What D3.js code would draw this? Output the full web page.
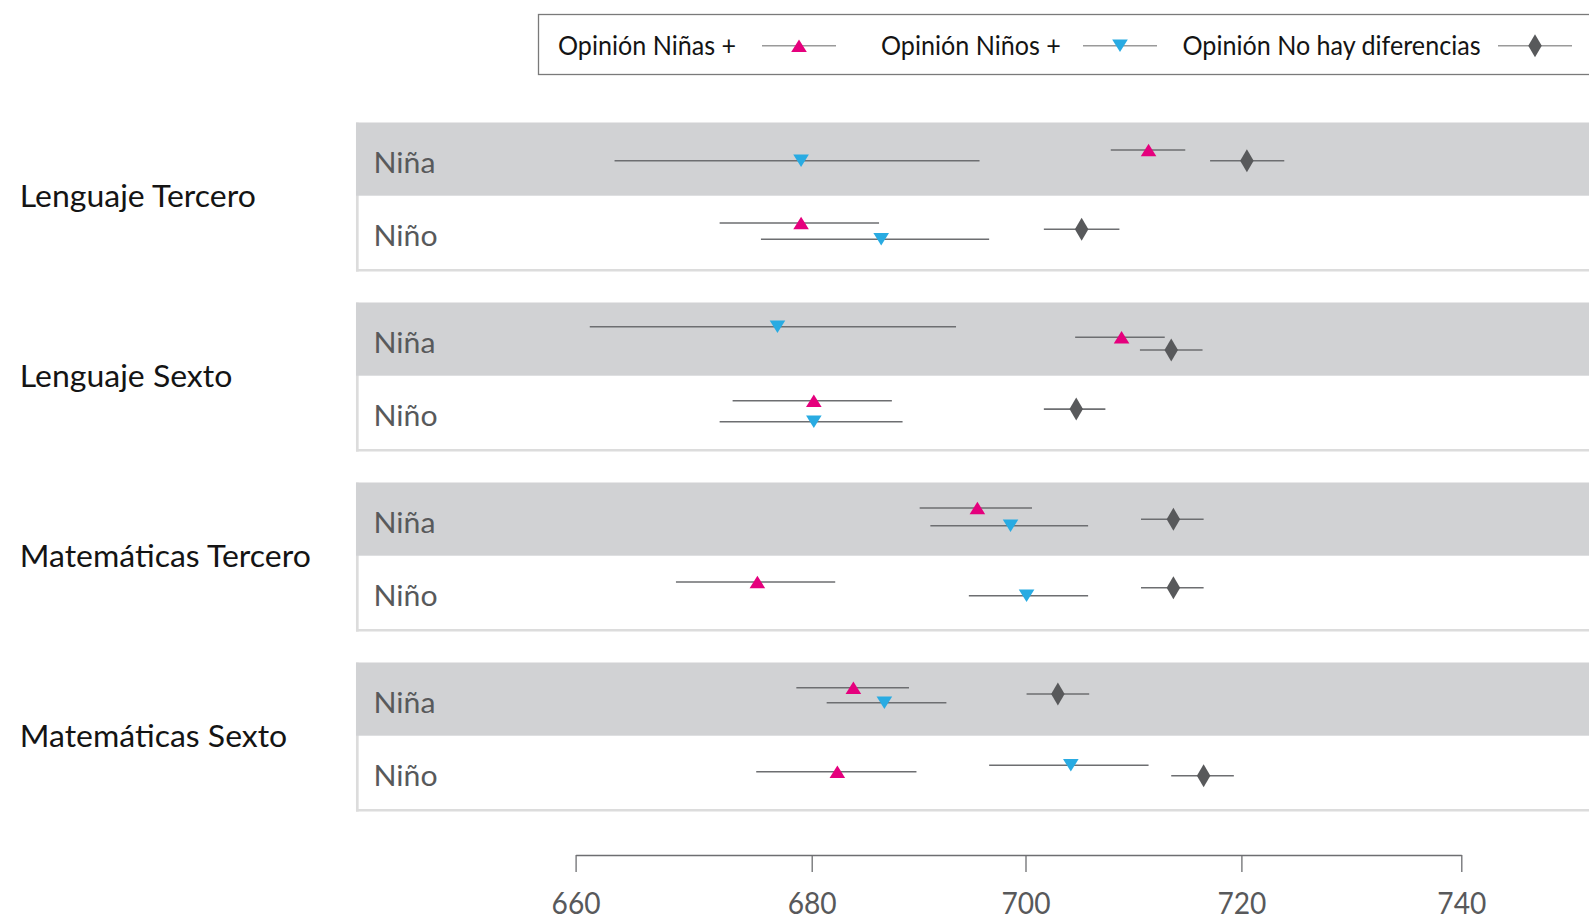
<!DOCTYPE html>
<html>
<head>
<meta charset="utf-8">
<script src="https://cdn.jsdelivr.net/npm/d3@7"></script>
<style>
html, body { margin: 0; padding: 0; background: #ffffff; }
svg { display: block; }
</style>
</head>
<body>
<svg id="chart" width="1589" height="919"></svg>
<script>
// ---------------- DATA ----------------
const groups = ["Lenguaje Tercero", "Lenguaje Sexto", "Matemáticas Tercero", "Matemáticas Sexto"];
const rows = ["Niña", "Niño"];
const seriesNames = ["Opinión Niñas +", "Opinión Niños +", "Opinión No hay diferencias"];
const xTicks = [660, 680, 700, 720, 740];

// order of entries: LT-Niña, LT-Niño, LS-Niña, LS-Niño, MT-Niña, MT-Niño, MS-Niña, MS-Niño
const ninasEst  = [711.4, 679.1, 708.9, 680.2, 695.5, 675.4, 683.9, 682.4];
const ninasLow  = [707.9, 672.2, 704.6, 673.3, 690.1, 668.5, 678.7, 675.3];
const ninasHigh = [714.8, 686.3, 712.9, 687.5, 700.6, 682.2, 689.1, 689.8];

const ninosEst  = [679.1, 686.5, 677.1, 680.2, 698.6, 700.1, 686.8, 704.2];
const ninosLow  = [663.3, 675.7, 661.2, 672.2, 691.1, 694.7, 681.4, 696.6];
const ninosHigh = [695.7, 696.6, 693.5, 688.5, 705.8, 705.8, 692.6, 711.4];

const noDifEst  = [720.5, 705.2, 713.5, 704.7, 713.7, 713.7, 703.0, 716.5];
const noDifLow  = [717.1, 701.7, 710.6, 701.7, 710.7, 710.7, 700.1, 713.5];
const noDifHigh = [723.9, 708.7, 716.4, 707.4, 716.5, 716.5, 705.9, 719.3];

// ---------------- LAYOUT / STYLE ----------------
const W = 1589, H = 919;
const FONT = "Lato, 'Open Sans', sans-serif";
const CAP = 0.7165; // Lato cap-height ratio
const COLORS = ["#e5007d", "#29abe2", "#58595b"];
const SHAPES = ["up", "down", "diamond"];

// vertical dodge of each estimate inside its row (px from the row top)
const dodgeNinas = [27.5, 27.3, 34.8, 25.1, 25.5, 26.3, 25.2, 36.0];
const dodgeNinos = [38.2, 43.6, 24.2, 46.1, 43.2, 40.0, 40.2, 29.6];
const dodgeNoDif = [38.2, 33.6, 47.5, 33.4, 36.8, 32.0, 31.5, 40.0];

// the printed axis has slightly uneven tick spacing; reproduce it with a polylinear scale
const axisStops = [575.6, 811.7, 1025.5, 1241.4, 1461.3];
const x = d3.scaleLinear().domain(xTicks).range(axisStops);

const panelH = 146.4;
const panel = d3.scaleBand().domain(groups)
  .range([122.5, 122.5 + 180 * 3 + panelH])
  .paddingInner((180 - panelH) / 180).paddingOuter(0);
const row = d3.scaleBand().domain(rows).range([0, panelH]);

const panelX = 356;

const svg = d3.select("#chart");

// text style: size from cap height, horizontal squeeze from a reference width
function textStyle(refText, capH, refW) {
  const size = capH / CAP;
  const t = svg.append("text").attr("font-family", FONT).attr("font-size", size).text(refText);
  const w = t.node().getComputedTextLength();
  t.remove();
  return { size, ratio: refW / w };
}
function applyStyle(sel, st) {
  sel.attr("font-family", FONT).attr("font-size", st.size)
    .each(function () {
      const w = this.getComputedTextLength();
      d3.select(this).attr("textLength", w * st.ratio).attr("lengthAdjust", "spacingAndGlyphs");
    });
}
const groupStyle = textStyle("Lenguaje Tercero", 22, 236);
const rowStyle = textStyle("Niña", 21, 62);
const tickStyle = textStyle("660", 21.8, 49);
const legendStyle = textStyle("Opinión Niñas +", 19, 178);

function shapePath(shape) {
  if (shape === "up") { const w = 15.6, h = 12.5; return `M0,${-h/2}L${w/2},${h/2}L${-w/2},${h/2}Z`; }
  if (shape === "down") { const w = 15.6, h = 12.5; return `M0,${h/2}L${w/2},${-h/2}L${-w/2},${-h/2}Z`; }
  const w = 13.5, h = 23; return `M0,${-h/2}L${w/2},0L0,${h/2}L${-w/2},0Z`;
}

// ---------------- PANELS ----------------
const gP = svg.append("g").selectAll("g.panel").data(groups).join("g")
  .attr("class", "panel")
  .attr("transform", d => `translate(0,${panel(d)})`);

gP.append("line")
  .attr("x1", panelX + 1.3).attr("x2", panelX + 1.3)
  .attr("y1", 0).attr("y2", panelH + 2.7)
  .attr("stroke", "#dcdcdc").attr("stroke-width", 2.7);
gP.append("line")
  .attr("x1", panelX).attr("x2", W)
  .attr("y1", panelH + 1.35).attr("y2", panelH + 1.35)
  .attr("stroke", "#dcdcdc").attr("stroke-width", 2.7);
gP.append("rect")
  .attr("x", panelX).attr("y", row("Niña"))
  .attr("width", W - panelX).attr("height", row.bandwidth())
  .attr("fill", "#d1d2d4");

gP.append("text")
  .attr("x", 19.8).attr("y", 84.5)
  .attr("fill", "#141414")
  .text(d => d)
  .call(applyStyle, groupStyle);

gP.selectAll("text.rowlab").data(rows).join("text")
  .attr("class", "rowlab")
  .attr("x", 373.5).attr("y", r => row(r) + 50.5)
  .attr("fill", "#58595b")
  .text(r => r)
  .call(applyStyle, rowStyle);

// ---------------- MARKS ----------------
const seriesData = [
  { est: ninasEst, low: ninasLow, high: ninasHigh, dodge: dodgeNinas },
  { est: ninosEst, low: ninosLow, high: ninosHigh, dodge: dodgeNinos },
  { est: noDifEst, low: noDifLow, high: noDifHigh, dodge: dodgeNoDif }
];

const gM = svg.append("g");
seriesData.forEach((s, si) => {
  const pts = s.est.map((v, i) => {
    const g = groups[Math.floor(i / 2)], r = rows[i % 2];
    return { est: v, low: s.low[i], high: s.high[i], y: panel(g) + row(r) + s.dodge[i] };
  });
  const gs = gM.append("g");
  gs.selectAll("line").data(pts).join("line")
    .attr("x1", d => x(d.low)).attr("x2", d => x(d.high))
    .attr("y1", d => d.y).attr("y2", d => d.y)
    .attr("stroke", "#6d6e71").attr("stroke-width", 1.6);
  gs.selectAll("path").data(pts).join("path")
    .attr("d", shapePath(SHAPES[si]))
    .attr("transform", d => `translate(${x(d.est)},${d.y})`)
    .attr("fill", COLORS[si]);
});

// ---------------- AXIS ----------------
const gA = svg.append("g")
  .attr("transform", "translate(0,855)")
  .call(d3.axisBottom(x).tickValues(xTicks).tickSize(17).tickSizeOuter(0).tickPadding(20)
    .tickFormat(d3.format("d")));
gA.select(".domain").attr("stroke", "#6d6e71").attr("stroke-width", 1.6);
gA.selectAll(".tick line").attr("stroke", "#6d6e71").attr("stroke-width", 1.3);
gA.selectAll(".tick text")
  .attr("fill", "#58595b")
  .attr("dy", null)
  .attr("y", 17 + 20 + 21.6)
  .call(applyStyle, tickStyle);

// ---------------- LEGEND ----------------
const legendTextX = [558, 881, 1182.5];
const legendLineX = [762, 1083, 1498];
const legendLineLen = 74;
const gL = svg.append("g");
gL.append("rect")
  .attr("x", 538.5).attr("y", 14.5).attr("width", 1200).attr("height", 60)
  .attr("fill", "#ffffff").attr("stroke", "#7a7a7a").attr("stroke-width", 1.3);
const items = gL.selectAll("g.item").data(seriesNames).join("g").attr("class", "item");
items.append("text")
  .attr("x", (d, i) => legendTextX[i]).attr("y", 55)
  .attr("fill", "#141414")
  .text(d => d)
  .call(applyStyle, legendStyle);
items.append("line")
  .attr("x1", (d, i) => legendLineX[i]).attr("x2", (d, i) => legendLineX[i] + legendLineLen)
  .attr("y1", 45.7).attr("y2", 45.7)
  .attr("stroke", "#9a9a9a").attr("stroke-width", 1.6);
items.append("path")
  .attr("d", (d, i) => shapePath(SHAPES[i]))
  .attr("transform", (d, i) => `translate(${legendLineX[i] + legendLineLen / 2},45.7)`)
  .attr("fill", (d, i) => COLORS[i]);
</script>
</body>
</html>
